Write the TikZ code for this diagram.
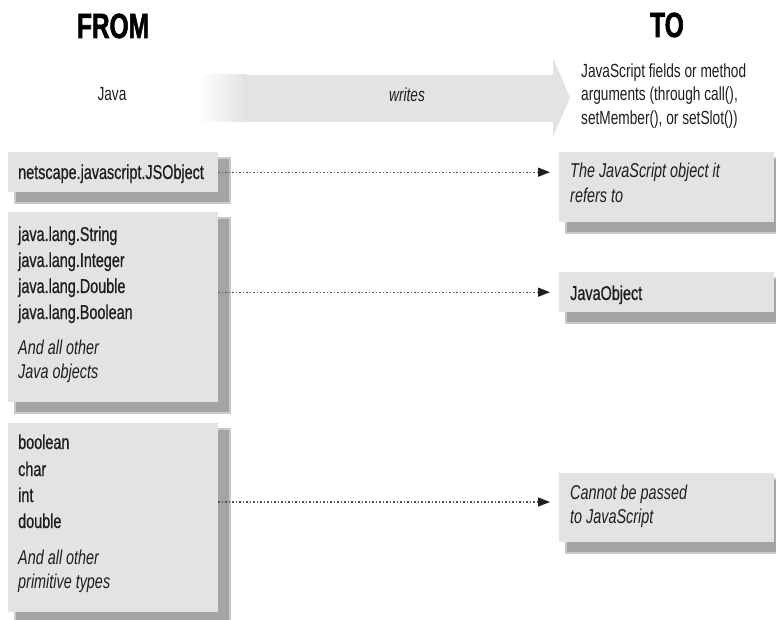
\documentclass[tikz,border=0pt]{standalone}
\usepackage{fontspec}
\setmainfont{Liberation Sans}[FakeStretch=0.72]
\newfontfamily\itemface{Liberation Sans}[FakeStretch=0.72, FakeBold=0.7]
\newfontfamily\headface{Liberation Sans}[FakeStretch=0.70, FakeBold=1.6]
\usetikzlibrary{arrows.meta,calc}

\definecolor{boxgray}{HTML}{E3E3E3}
\definecolor{shadowdark}{HTML}{A4A4A4}
\definecolor{shadowlight}{HTML}{CACACA}
\definecolor{ink}{HTML}{1E1E1E}
\definecolor{dotgray}{HTML}{555555}

\pgfdeclarelayer{background}
\pgfsetlayers{background,main}

\tikzset{
  panel/.style={fill=boxgray, draw=none, inner sep=0pt, anchor=north west},
  item/.style={anchor=base west, inner sep=0pt, text=ink, font=\itemface\fontsize{20}{24}\selectfont},
  note/.style={anchor=base west, inner sep=0pt, text=ink, font=\fontsize{20}{24}\selectfont\itshape},
  head/.style={anchor=base, inner sep=0pt, text=black, font=\headface\fontsize{35}{40}\selectfont\bfseries},
  caption/.style={inner sep=0pt, text=ink, font=\fontsize{19}{23}\selectfont},
  link/.style={draw=dotgray, line width=1.3pt, dash pattern=on 1.3pt off 2.2pt,
    -{Triangle[length=12pt,width=9pt,color=ink]}, shorten >=9pt},
  shadowsoft/.style={fill=shadowlight},
  shadowcore/.style={fill=shadowdark}
}

\newcommand\panelshadow[1]{%
  \fill[shadowsoft] ($(#1.north west)+(6,5)$) rectangle ($(#1.south east)+(13,12)$);
  \fill[shadowcore] ($(#1.north west)+(8,7)$) rectangle ($(#1.south east)+(11,10)$);
}

\begin{document}
\begin{tikzpicture}[x=1pt,y=-1pt]
\useasboundingbox (0,0) rectangle (776,620);

% column headings
\node[head] (hfrom) at (113,38) {FROM};
\node[head] (hto) at (667,37) {TO};

% the "writes" band with its arrow head
\shade[left color=white, right color=boxgray] (198,75) rectangle (246,122);
\fill[boxgray] (245,75) -- (553,75) -- (553,58) -- (570,97.5) -- (553,137)
  -- (553,122) -- (245,122) -- cycle;
\node[caption, anchor=base] (hjava) at (112,101) {Java};
\node[caption, anchor=base, font=\fontsize{19}{23}\selectfont\itshape] (hwrites) at (407,102) {writes};
\node[caption, anchor=base west] (hjs1) at (581,78) {JavaScript fields or method};
\node[caption, anchor=base west] (hjs2) at (581,101) {arguments (through call(),};
\node[caption, anchor=base west] (hjs3) at (581,125) {setMember(), or setSlot())};

% Java side
\node[panel, minimum width=210pt, minimum height=40pt] (b1) at (8,152) {};
\node[panel, minimum width=210pt, minimum height=190pt] (b2) at (8,212) {};
\node[panel, minimum width=210pt, minimum height=189pt] (b3) at (8,423) {};

\node[item] (t1) at (18,179) {netscape.javascript.JSObject};

\node[item] (t2a) at (18,241) {java.lang.String};
\node[item] (t2b) at (18,267) {java.lang.Integer};
\node[item] (t2c) at (18,293) {java.lang.Double};
\node[item] (t2d) at (18,319) {java.lang.Boolean};
\node[note] (t2e) at (18,354) {And all other};
\node[note] (t2f) at (18,378) {Java objects};

\node[item] (t3a) at (18,449) {boolean};
\node[item] (t3b) at (18,476) {char};
\node[item] (t3c) at (18,502) {int};
\node[item] (t3d) at (18,528) {double};
\node[note] (t3e) at (18,564) {And all other};
\node[note] (t3f) at (18,588) {primitive types};

% JavaScript side
\node[panel, minimum width=215pt, minimum height=70pt] (r1) at (559,152) {};
\node[panel, minimum width=215pt, minimum height=40pt] (r2) at (559,272) {};
\node[panel, minimum width=215pt, minimum height=69pt] (r3) at (559,473) {};

\node[note] (u1a) at (570,178) {The JavaScript object it};
\node[note] (u1b) at (570,203) {refers to};
\node[item] (u2) at (570,300) {JavaObject};
\node[note] (u3a) at (570,499) {Cannot be passed};
\node[note] (u3b) at (570,523) {to JavaScript};

% drop shadows behind the panels
\begin{pgfonlayer}{background}
  \panelshadow{b1}
  \panelshadow{b2}
  \panelshadow{b3}
  \panelshadow{r1}
  \panelshadow{r2}
  \panelshadow{r3}
\end{pgfonlayer}

% conversions
\coordinate (y3) at (0,502);
\draw[link] (b1.east) -- (b1.east -| r1.west);
\draw[link] (r2.west -| b2.east) -- (r2.west);
\draw[link] (b3.east |- y3) -- (r3.west |- y3);
\end{tikzpicture}
\end{document}
